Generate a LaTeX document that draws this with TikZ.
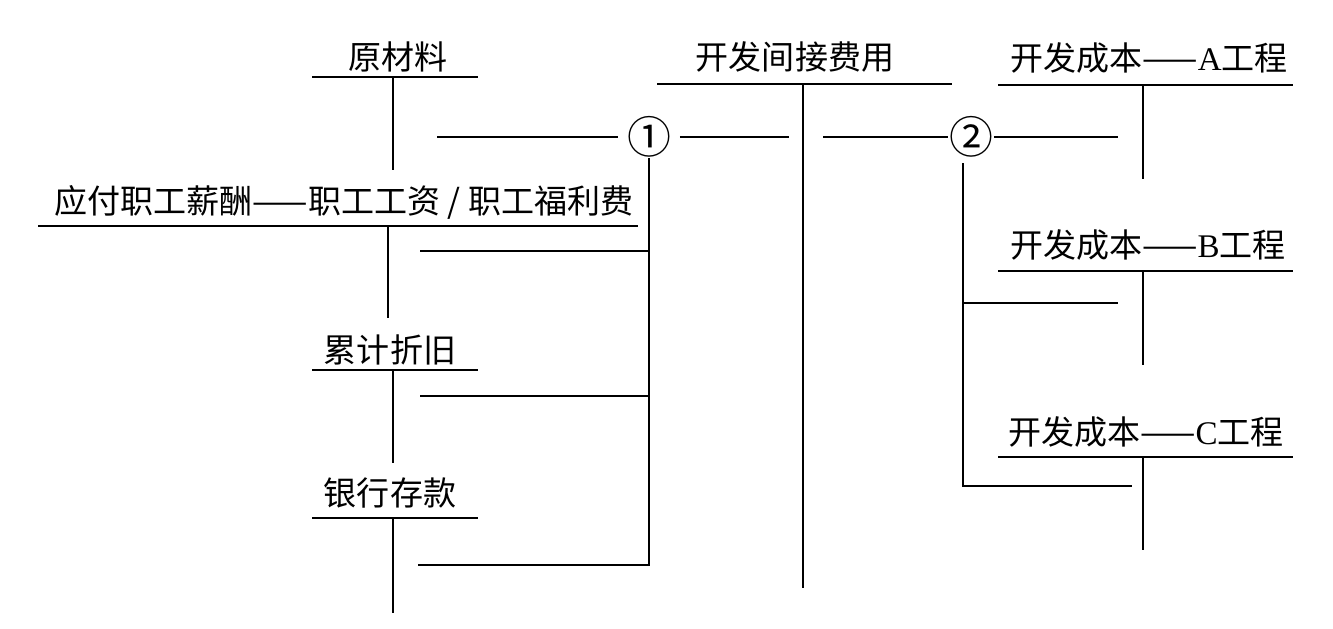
\documentclass[tikz,border=0pt]{standalone}
\usepackage{fontspec}
\setmainfont{Liberation Serif}
\newfontfamily\cjk{Noto Sans CJK SC}
\usetikzlibrary{positioning}

\begin{document}
\begin{tikzpicture}[
  x=0.02cm, y=-0.02cm, line width=1.1pt,
  acct/.style={font=\cjk\fontsize{18.8pt}{22pt}\selectfont, inner sep=0pt},
  num/.style={font=\cjk\fontsize{25pt}{28pt}\selectfont, inner sep=0pt, minimum height=0.72cm}
]
  \useasboundingbox (0,0) rectangle (1333,629);

  \node[acct] (yl) at (398,57)  {原材料};
  \node[acct] (gz) at (344,202) {应付职工薪酬——职工工资 / 职工福利费};
  \node[acct] (zj) at (390,350) {累计折旧};
  \node[acct] (ck) at (390,493) {银行存款};
  \node[acct] (jj) at (795,57)  {开发间接费用};
  \node[acct] (ca) at (1149,58)  {开发成本——\textrm{A}工程};
  \node[acct] (cb) at (1148,245) {开发成本——\textrm{B}工程};
  \node[acct] (cc) at (1146,432) {开发成本——\textrm{C}工程};

  \draw (312,77) -- (478,77) (393,77) -- (393,170);
  \draw (38,226) -- (638,226) (388,226) -- (388,318);
  \draw (312,370) -- (478,370) (393,370) -- (393,463);
  \draw (312,518) -- (478,518) (393,518) -- (393,613);
  \draw (657,84) -- (952,84) (803,84) -- (803,588);
  \draw (998,85) -- (1293,85) (1143,85) -- (1143,179);
  \draw (998,271) -- (1293,271) (1143,271) -- (1143,365);
  \draw (998,457) -- (1293,457) (1143,457) -- (1143,550);

  \node[num, minimum width=1.2cm]  (n1) at (649,137) {①};
  \node[num, minimum width=0.76cm] (n2) at (971,137) {②};

  \coordinate (ylOut) at (437,137);
  \coordinate (jjIn)  at (789,137);
  \coordinate (jjOut) at (823,137);
  \coordinate (caIn)  at (1118,137);
  \coordinate (gzOut) at (420,251);
  \coordinate (zjOut) at (420,396);
  \coordinate (ckOut) at (418,565);
  \coordinate (t2)    at (963,163);
  \coordinate (cbIn)  at (1118,303);
  \coordinate (ccIn)  at (1132,486);

  \draw (ylOut) -- (n1) -- (jjIn);
  \draw (n1) -- (n1 |- ckOut) -- (ckOut);
  \draw (gzOut) -- (gzOut -| n1);
  \draw (zjOut) -- (zjOut -| n1);
  \draw (jjOut) -- (n2) -- (caIn);
  \draw (t2) -- (t2 |- ccIn) -- (ccIn);
  \draw (t2 |- cbIn) -- (cbIn);
\end{tikzpicture}
\end{document}
